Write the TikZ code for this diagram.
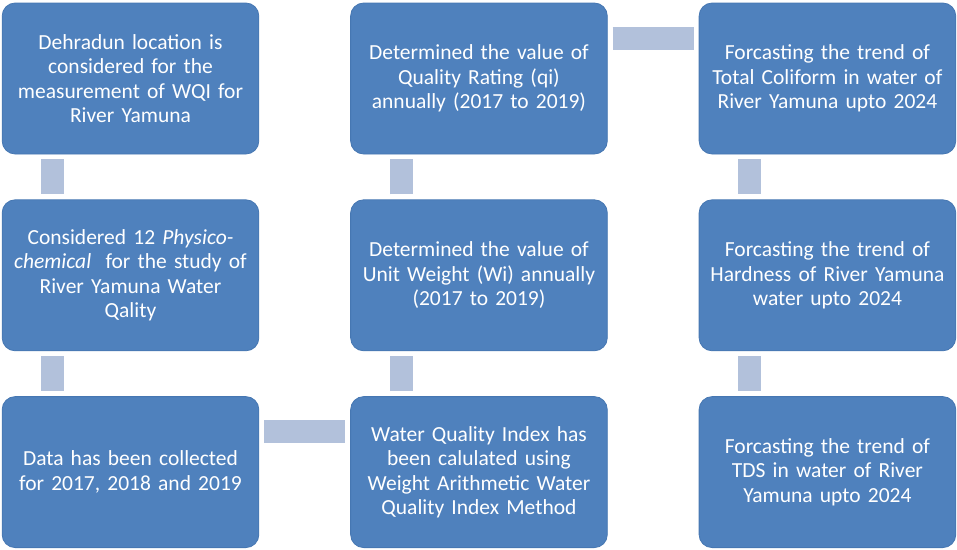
\documentclass[tikz,border=0pt]{standalone}
\usepackage{fontspec}
\setmainfont{Carlito}
\usetikzlibrary{positioning}
\definecolor{boxblue}{HTML}{4F81BD}
\definecolor{boxedge}{HTML}{4677B2}
\definecolor{barblue}{HTML}{B2C1DB}
\begin{document}
\begin{tikzpicture}
  \tikzstyle{stepbox}=[draw=boxedge,line width=0.8pt,fill=boxblue,rounded corners=13pt,
    minimum width=255pt,minimum height=151pt,text width=250pt,align=center,
    text=white,font=\fontsize{21.5}{24.4}\selectfont]
  \tikzstyle{linkbar}=[draw=barblue,line width=23pt,shorten <=5pt,shorten >=5pt]
  \def\colsep{91pt}
  \def\rowsep{45pt}
  \def\barshift{51pt}
  \def\bardrop{35.5pt}

  \useasboundingbox (0,0) rectangle (957pt,-549pt);

  \node [stepbox] (location) at (130.5pt,-78.5pt) {Dehradun location is\\considered for the\\measurement of WQI for\\River Yamuna};
  \node [stepbox,below=\rowsep of location] (physico) {Considered 12 \textit{Physico-}\\\textit{chemical}\ \ for the study of\\River Yamuna Water\\Qality};
  \node [stepbox,below=\rowsep of physico] (data) {Data has been collected\\for 2017, 2018 and 2019};
  \node [stepbox,right=\colsep of data] (wqi) {Water Quality Index has\\been calulated using\\Weight Arithmetic Water\\Quality Index Method};
  \node [stepbox,above=\rowsep of wqi] (unitwt) {Determined the value of\\Unit Weight (Wi) annually\\(2017 to 2019)};
  \node [stepbox,above=\rowsep of unitwt] (rating) {Determined the value of\\Quality Rating (qi)\\annually (2017 to 2019)};
  \node [stepbox,right=\colsep of rating] (coliform) {Forcasting the trend of\\Total Coliform in water of\\River Yamuna upto 2024};
  \node [stepbox,below=\rowsep of coliform] (hardness) {Forcasting the trend of\\Hardness of River Yamuna\\water upto 2024};
  \node [stepbox,below=\rowsep of hardness] (tds) {Forcasting the trend of\\TDS in water of River\\Yamuna upto 2024};

  % bars between the steps
  \draw [linkbar] ([xshift=\barshift]location.south west) -- ([xshift=\barshift]physico.north west);
  \draw [linkbar] ([xshift=\barshift]physico.south west) -- ([xshift=\barshift]data.north west);
  \draw [linkbar] ([yshift=-\bardrop]data.north east) -- ([yshift=-\bardrop]wqi.north west);
  \draw [linkbar] ([xshift=\barshift]wqi.north west) -- ([xshift=\barshift]unitwt.south west);
  \draw [linkbar] ([xshift=\barshift]unitwt.north west) -- ([xshift=\barshift]rating.south west);
  \draw [linkbar] ([yshift=-\bardrop]rating.north east) -- ([yshift=-\bardrop]coliform.north west);
  \draw [linkbar] ([xshift=\barshift]coliform.south west) -- ([xshift=\barshift]hardness.north west);
  \draw [linkbar] ([xshift=\barshift]hardness.south west) -- ([xshift=\barshift]tds.north west);
\end{tikzpicture}
\end{document}
